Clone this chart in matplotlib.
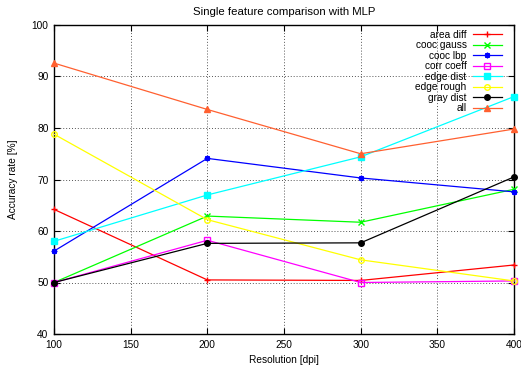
import matplotlib
matplotlib.use("Agg")
import matplotlib.pyplot as plt

resolution = [100, 200, 300, 400]

area_diff = [64.2, 50.5, 50.4, 53.4]
cooc_gauss = [50.0, 62.9, 61.7, 68.1]
cooc_lbp = [56.1, 74.1, 70.3, 67.6]
corr_coeff = [50.0, 58.2, 50.0, 50.3]
edge_dist = [58.0, 67.0, 74.4, 86.1]
edge_rough = [78.8, 62.2, 54.4, 50.3]
gray_dist = [50.0, 57.6, 57.7, 70.5]
all_features = [92.6, 83.6, 75.0, 79.8]

labels = ["area diff", "cooc gauss", "cooc lbp", "corr coeff",
          "edge dist", "edge rough", "gray dist", "all"]
series = [area_diff, cooc_gauss, cooc_lbp, corr_coeff,
          edge_dist, edge_rough, gray_dist, all_features]

plt.rcParams['font.family'] = ['Liberation Sans', 'DejaVu Sans']
plt.rcParams['font.size'] = 7.3

# colour, marker, filled
styles = [
    ("#ff0000", "+", True),
    ("#00ff00", "x", True),
    ("#0000ff", (8, 2, 0), True),
    ("#ff00ff", "s", False),
    ("#00ffff", "s", True),
    ("#ffff00", "o", False),
    ("#000000", "o", True),
    ("#ff6030", "^", True),
]

fig = plt.figure(figsize=(5.21, 3.71), dpi=100)
ax = fig.add_axes([54 / 521, 1 - 334 / 371, 460 / 521, 309 / 371])

for vals, lab, (col, mk, filled) in zip(series, labels, styles):
    ax.plot(resolution, vals, color=col, linewidth=0.9, marker=mk,
            markersize=4, markeredgewidth=1.0,
            markerfacecolor=col if filled else "none",
            markeredgecolor=col, label=lab, clip_on=False, zorder=3)

ax.set_xlim(100, 400)
ax.set_ylim(40, 100)
ax.set_xticks(range(100, 401, 50))
ax.set_yticks(range(40, 101, 10))
ax.grid(True, color="#555555", linestyle=(0, (1, 2)), linewidth=0.7)
ax.tick_params(direction="in", top=True, right=True, length=4, width=0.8,
               labelsize=7.3, pad=4)
for sp in ax.spines.values():
    sp.set_linewidth(1.0)

ax.set_title("Single feature comparison with MLP", fontsize=8.2, pad=7)
ax.set_xlabel("Resolution [dpi]", labelpad=4)
ax.set_ylabel("Accuracy rate [%]", labelpad=10)

ax.legend(loc="upper right", bbox_to_anchor=(0.974, 0.985), frameon=False,
          markerfirst=False, handlelength=2.9, handletextpad=0.6,
          labelspacing=0.05, borderpad=0, borderaxespad=0, fontsize=7.3)

fig.savefig("out.png", dpi=100)
